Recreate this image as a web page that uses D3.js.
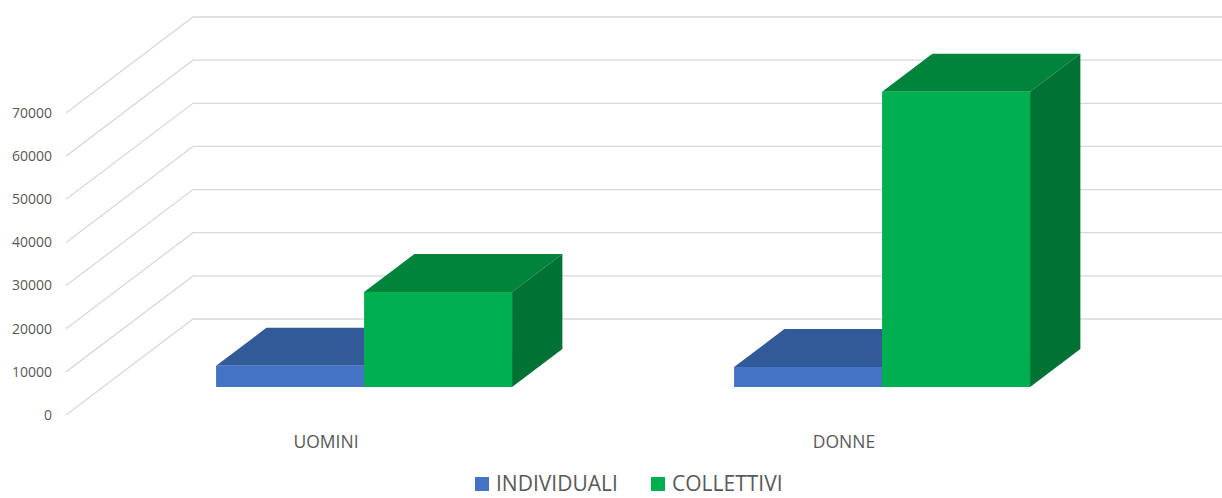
<!DOCTYPE html>
<html><head><meta charset="utf-8">
<script src="https://cdn.jsdelivr.net/npm/d3@7"></script>
<style>body{margin:0;background:#fff}svg{display:block;font-family:"Open Sans",sans-serif}</style>
</head><body><svg id="c" width="1222" height="498"></svg>
<script>
const categories = ["UOMINI", "DONNE"];
const seriesNames = ["INDIVIDUALI", "COLLETTIVI"];
const individuali = [4900, 4600];
const collettivi = [22000, 68400];
const tickValues = [0, 10000, 20000, 30000, 40000, 50000, 60000, 70000];

const colors = [
  {front: "#4472C4", top: "#335A98", side: "#2F528F"},
  {front: "#00B050", top: "#00833B", side: "#007233"}
];

const svg = d3.select("#c");
const floorY = 415, depthX = 127, depthY = 96;
const y = d3.scaleLinear().domain([0, 70000]).range([0, 302]);
const x = d3.scaleBand().domain(categories).range([68, 1104]);
const inner = d3.scaleBand().domain(seriesNames).range([0, x.bandwidth()]).paddingOuter(0.75).paddingInner(0);
const proj = (px, v, d) => [px + depthX * d, floorY - y(v) - depthY * d];

// gridlines
const g = svg.append("g");
tickValues.forEach(t => {
  const a = proj(66, t, 0), b = proj(66, t, 1);
  g.append("path").attr("d", `M${a[0]},${a[1]}L${b[0]},${b[1]}L1222,${b[1]}`)
    .attr("fill", "none").attr("stroke", "#d9d9d9").attr("stroke-width", 1.3);
  g.append("text").attr("x", 52).attr("y", a[1]).attr("dy", "0.35em")
    .attr("text-anchor", "end").attr("fill", "#595959").attr("font-size", 14).text(t);
});

const d0 = 0.292, d1 = 0.688;
const data = [individuali, collettivi];
categories.forEach((c, ci) => {
  seriesNames.forEach((s, si) => {
    const v = data[si][ci];
    const x0 = x(c) + inner(s), x1 = x0 + inner.bandwidth();
    const p = (px, vv, d) => proj(px, vv, d).join(",");
    const col = colors[si];
    svg.append("path").attr("d", `M${p(x0, v, d0)}L${p(x1, v, d0)}L${p(x1, v, d1)}L${p(x0, v, d1)}Z`).attr("fill", col.top);
    svg.append("path").attr("d", `M${p(x1, 0, d0)}L${p(x1, v, d0)}L${p(x1, v, d1)}L${p(x1, 0, d1)}Z`).attr("fill", col.side);
    svg.append("path").attr("d", `M${p(x0, 0, d0)}L${p(x1, 0, d0)}L${p(x1, v, d0)}L${p(x0, v, d0)}Z`).attr("fill", col.front);
  });
  svg.append("text").attr("x", x(c) + x.bandwidth() / 2 - 1).attr("y", 448)
    .attr("text-anchor", "middle").attr("fill", "#595959").attr("font-size", 17.5).text(c);
});

// legend
const leg = svg.append("g");
const legX = [475, 651];
seriesNames.forEach((s, i) => {
  leg.append("rect").attr("x", legX[i]).attr("y", 477).attr("width", 14).attr("height", 14).attr("fill", colors[i].front);
  leg.append("text").attr("x", legX[i] + 21).attr("y", 491).attr("fill", "#595959").attr("font-size", 21).text(s);
});
</script></body></html>
